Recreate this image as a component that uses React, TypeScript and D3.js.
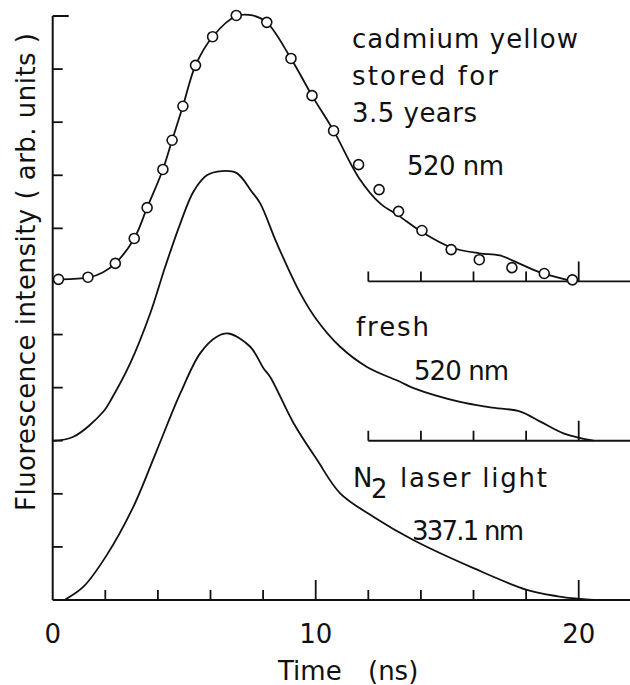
import React from 'react'
import * as d3 from 'd3'

// time axis (ns)
const timeTicks = [2, 4, 6, 8, 10, 12, 14, 16, 18, 20]
const timeLabels = [0, 10, 20]
const shortAxisTicks = [12, 14, 16, 18, 20]
const intensityTicks = [1, 2, 3, 4, 5, 6, 7, 8, 9, 10]

// offsets of the three stacked traces (arb. units)
const storedBase = 6
const freshBase = 3
const laserBase = 0

// cadmium yellow stored for 3.5 years, 520 nm: measured points
const storedPointTime = [0.22, 1.34, 2.38, 3.1, 3.59, 4.19, 4.54, 4.95, 5.43, 6.08, 6.98, 8.14, 9.06, 9.86, 10.68, 11.63, 12.41, 13.15, 14.04, 15.15, 16.22, 17.46, 18.69, 19.76]
const storedPointValue = [0.04, 0.08, 0.34, 0.81, 1.39, 2.11, 2.66, 3.3, 4.07, 4.61, 5.01, 4.88, 4.2, 3.5, 2.84, 2.2, 1.73, 1.32, 0.96, 0.6, 0.41, 0.26, 0.15, 0.03]

// drawn curve through the stored points
const storedCurveTime = [0, 0.8, 1.34, 1.9, 2.38, 3.1, 3.59, 4.19, 4.54, 4.95, 5.43, 6.08, 6.98, 7.6, 8.14, 9.06, 9.86, 10.68, 11.63, 12.45, 13.15, 14.04, 15.15, 16.22, 17.0, 17.77, 18.53, 19.8]
const storedCurveValue = [0.04, 0.05, 0.07, 0.17, 0.34, 0.81, 1.39, 2.11, 2.66, 3.3, 4.07, 4.61, 5.0, 5.01, 4.88, 4.2, 3.5, 2.84, 1.96, 1.47, 1.24, 0.93, 0.64, 0.53, 0.49, 0.33, 0.17, 0.0]

// fresh cadmium yellow, 520 nm
const freshTime = [0, 0.79, 1.93, 2.25, 2.95, 3.71, 4.28, 4.85, 5.35, 5.86, 6.43, 7.0, 7.57, 7.89, 8.52, 9.41, 10.05, 10.93, 11.95, 13.21, 13.72, 15.49, 16.63, 17.78, 18.54, 19.42, 20.56]
const freshValue = [0, 0.075, 0.55, 0.8, 1.46, 2.4, 3.28, 4.09, 4.69, 5.0, 5.08, 5.04, 4.69, 4.47, 3.72, 2.78, 2.27, 1.77, 1.39, 1.11, 0.99, 0.73, 0.63, 0.55, 0.36, 0.14, 0]

// N2 laser light, 337.1 nm
const laserTime = [0.48, 1.17, 2.06, 3.07, 3.96, 4.85, 5.61, 6.24, 6.68, 7.51, 8.02, 8.27, 9.16, 10.05, 10.93, 12.19, 13.71, 16.0, 18.03, 19.2, 20.06, 20.56]
const laserValue = [0.01, 0.25, 0.85, 1.76, 2.82, 3.89, 4.65, 4.96, 5.02, 4.77, 4.36, 4.2, 3.33, 2.64, 2.01, 1.57, 1.13, 0.6, 0.19, 0.07, 0.02, 0]

const width = 630
const height = 685
const ink = '#111'
const font = { fontFamily: 'DejaVu Sans', fontSize: 26, fill: ink }

const zip = (ts: number[], vs: number[], base: number): [number, number][] =>
  ts.map((t, i) => [t, vs[i] + base])

export default function App () {
  const x = d3.scaleLinear().domain([0, 21.95]).range([52.7, 630])
  const y = d3.scaleLinear().domain([0, 11]).range([600, 16])
  const line = d3.line<[number, number]>()
    .x(d => x(d[0]))
    .y(d => y(d[1]))
    .curve(d3.curveCatmullRom.alpha(0.5))

  const traces = [
    zip(storedCurveTime, storedCurveValue, storedBase),
    zip(freshTime, freshValue, freshBase),
    zip(laserTime, laserValue, laserBase),
  ]
  const points = zip(storedPointTime, storedPointValue, storedBase)
  const x0 = x(0)

  const shortAxis = (base: number) => (
    <g key={base}>
      <line x1={x(12)} x2={width} y1={y(base)} y2={y(base)} stroke={ink} strokeWidth={1.8} />
      {shortAxisTicks.map(t => (
        <line key={t} x1={x(t)} x2={x(t)} y1={y(base)} y2={y(base) - (t === 20 ? 20 : 10)} stroke={ink} strokeWidth={1.8} />
      ))}
    </g>
  )

  return (
    <svg width={width} height={height} style={{ position: 'absolute', left: 0, top: 0, background: '#fff' }}>
      {/* intensity axis */}
      <line x1={x0} x2={x0} y1={y(11)} y2={y(0)} stroke={ink} strokeWidth={2} />
      <line x1={x0} x2={x0 + 16} y1={y(11)} y2={y(11)} stroke={ink} strokeWidth={2} />
      {intensityTicks.map(v => (
        <line key={v} x1={x0} x2={x0 + 10} y1={y(v)} y2={y(v)} stroke={ink} strokeWidth={1.8} />
      ))}

      {/* time axis */}
      <line x1={x0} x2={width} y1={y(0)} y2={y(0)} stroke={ink} strokeWidth={2} />
      {timeTicks.map(t => (
        <line key={t} x1={x(t)} x2={x(t)} y1={y(0)} y2={y(0) - (t % 10 === 0 ? 20 : 10)} stroke={ink} strokeWidth={1.8} />
      ))}
      {timeLabels.map(t => (
        <text key={t} x={x(t)} y={643} textAnchor='middle' {...font}>{t}</text>
      ))}
      <text x={278} y={680} {...font}>Time</text>
      <text x={368} y={680} {...font}>(ns)</text>
      <text transform='translate(35, 272) rotate(-90)' textAnchor='middle' textLength={478} lengthAdjust='spacing' {...font}>
        Fluorescence intensity ( arb. units )
      </text>

      {shortAxis(storedBase)}
      {shortAxis(freshBase)}

      {traces.map((d, i) => (
        <path key={i} d={line(d) || ''} fill='none' stroke={ink} strokeWidth={1.8} />
      ))}
      {points.map((d, i) => (
        <circle key={i} cx={x(d[0])} cy={y(d[1])} r={5} fill='#fff' stroke={ink} strokeWidth={1.6} />
      ))}

      {/* trace labels */}
      <text x={352} y={48} textLength={226} lengthAdjust='spacing' {...font}>cadmium yellow</text>
      <text x={352} y={85} textLength={146} lengthAdjust='spacing' {...font}>stored for</text>
      <text x={352} y={122} textLength={125} lengthAdjust='spacing' {...font}>3.5 years</text>
      <text x={407} y={175} textLength={97} lengthAdjust='spacing' {...font}>520 nm</text>
      <text x={356} y={336} textLength={73} lengthAdjust='spacing' {...font}>fresh</text>
      <text x={414} y={380} textLength={95} lengthAdjust='spacing' {...font}>520 nm</text>
      <text x={353} y={487} {...font}>N</text>
      <text x={371} y={498} {...font}>2</text>
      <text x={400} y={487} textLength={147} lengthAdjust='spacing' {...font}>laser light</text>
      <text x={412} y={540} textLength={112} lengthAdjust='spacing' {...font}>337.1 nm</text>
    </svg>
  )
}
